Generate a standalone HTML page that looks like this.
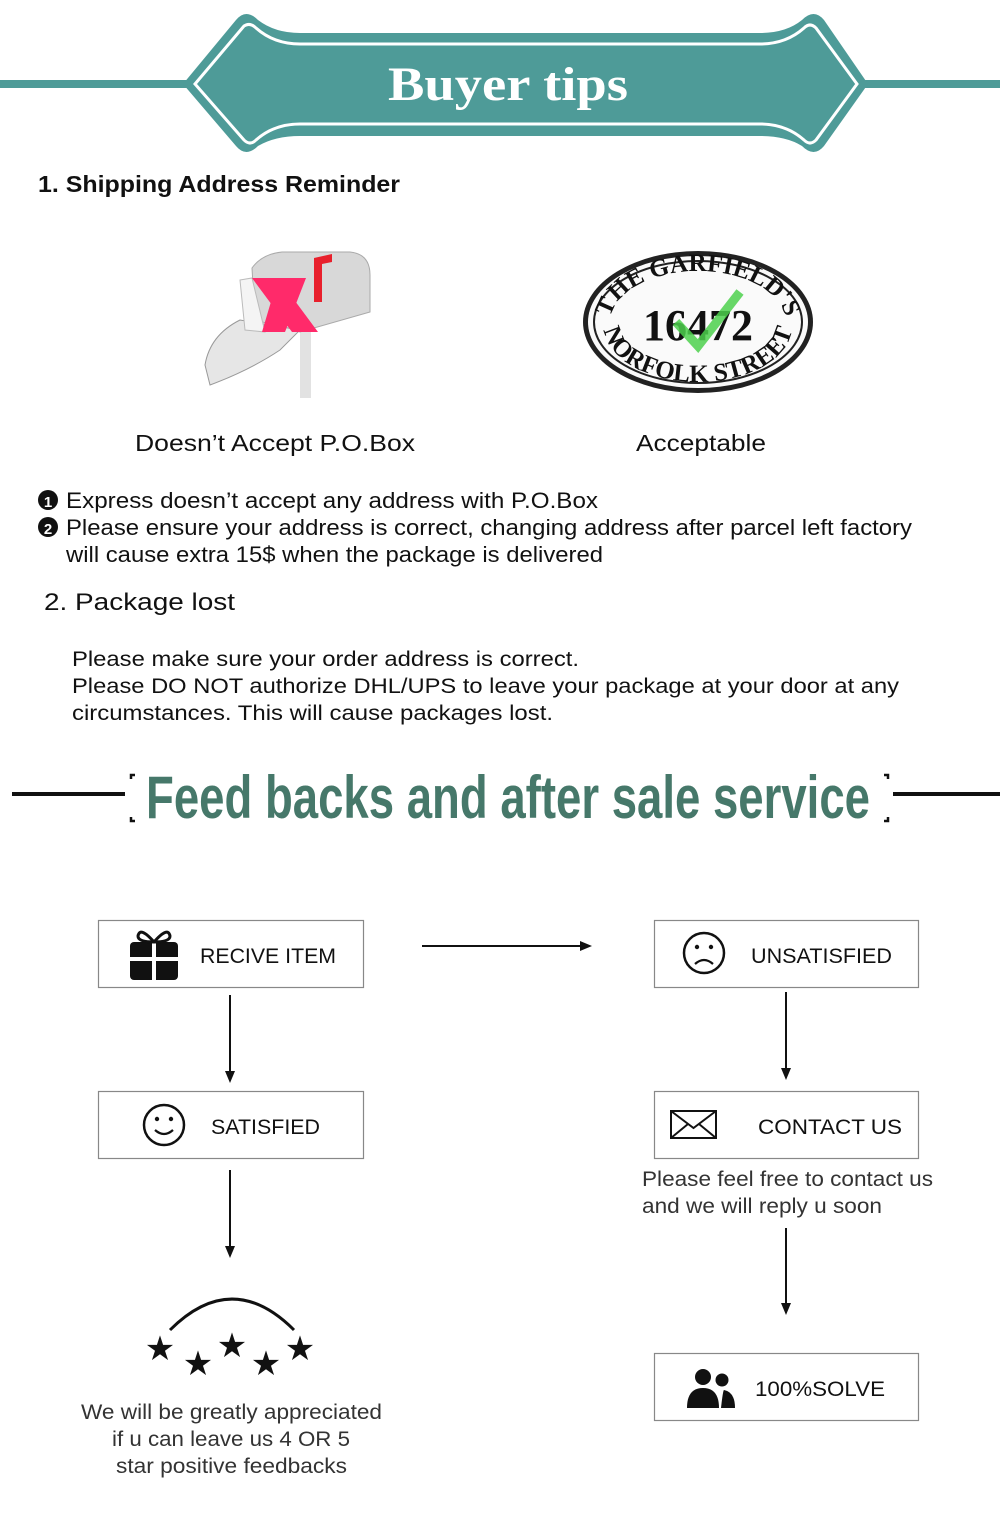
<!DOCTYPE html>
<html><head><meta charset="utf-8"><style>
html,body{margin:0;padding:0;background:#fff;}
svg{display:block;}
text{font-family:"Liberation Sans",Arial,sans-serif;fill:#111;}
</style></head><body>
<svg width="1000" height="1515" viewBox="0 0 1000 1515" xmlns="http://www.w3.org/2000/svg">
<!-- Banner -->
<rect x="0" y="80" width="200" height="8" fill="#4e9b98"/>
<rect x="850" y="80" width="150" height="8" fill="#4e9b98"/>
<path d="M183,84 L236,20 Q246,8 258,20 Q275,33 300,33 L760,33 Q786,33 802,20 Q814,8 824,20 L868,84 L824,146 Q814,158 802,146 Q786,136 760,136 L300,136 Q275,136 258,146 Q246,158 236,146 Z" fill="#4e9b98"/>
<path d="M195,84 L244,26 Q250,22 256,28 Q274,44 300,44 L760,44 Q786,44 804,28 Q810,22 816,28 L857,84 L816,140 Q810,146 804,140 Q786,124 760,124 L300,124 Q274,124 256,140 Q250,146 244,140 Z" fill="none" stroke="#fff" stroke-width="3"/>
<text x="388" y="100" textLength="240" lengthAdjust="spacingAndGlyphs" style="font-family:'Liberation Serif',serif;font-weight:bold;font-size:48px;fill:#fff">Buyer tips</text>

<text x="38" y="192" textLength="362" lengthAdjust="spacingAndGlyphs" style="font-weight:bold;font-size:23px">1. Shipping Address Reminder</text>

<!-- Mailbox -->
<rect x="300" y="310" width="11" height="88" fill="#e2e2e2"/>
<path d="M252,268 Q262,254 282,252 L350,252 Q370,254 370,275 L370,312 L300,332 L255,320 Z" fill="#d8d8d8" stroke="#aaa"/>
<path d="M205,365 Q210,335 240,320 L300,330 L280,350 Q250,370 210,385 Z" fill="#e6e6e6" stroke="#999"/>
<polygon points="240,280 252,278 265,332 245,330" fill="#f4f4f4" stroke="#bbb"/>
<polygon points="252,278 278,278 318,332 292,332" fill="#ff2a6a"/>
<polygon points="278,278 306,278 285,332 262,332" fill="#ff2a6a"/>
<polygon points="314,258 332,254 332,262 322,264 322,302 314,302" fill="#e8202c"/>

<!-- Sign -->
<ellipse cx="698" cy="322" rx="115" ry="71" fill="#222"/>
<ellipse cx="698" cy="322" rx="110" ry="66" fill="#fafafa"/>
<ellipse cx="698" cy="322" rx="104" ry="61" fill="none" stroke="#222" stroke-width="2"/>
<defs>
<path id="top" d="M612,312 A88,52 0 0 1 784,312"/>
<path id="bot" d="M604,326 A94,56 0 0 0 792,326"/>
</defs>
<text style="font-family:'Liberation Serif',serif;font-weight:bold;font-size:25px;fill:#111"><textPath href="#top" startOffset="50%" text-anchor="middle">THE GARFIELD'S</textPath></text>
<text style="font-family:'Liberation Serif',serif;font-weight:bold;font-size:25px;fill:#111"><textPath href="#bot" startOffset="50%" text-anchor="middle">NORFOLK STREET</textPath></text>
<text x="698" y="340" text-anchor="middle" style="font-family:'Liberation Serif',serif;font-weight:bold;font-size:44px;fill:#111">16472</text>
<polyline points="676,322 698,346 740,292" fill="none" stroke="#4cd04c" stroke-width="9" opacity="0.85"/>

<text x="135" y="451" textLength="280" lengthAdjust="spacingAndGlyphs" style="font-size:23px">Doesn’t Accept P.O.Box</text>
<text x="636" y="451" textLength="130" lengthAdjust="spacingAndGlyphs" style="font-size:23px">Acceptable</text>

<circle cx="48" cy="500" r="10" fill="#111"/><text x="48" y="507" text-anchor="middle" style="font-size:15px;font-weight:bold;fill:#fff">1</text>
<circle cx="48" cy="527" r="10" fill="#111"/><text x="48" y="534" text-anchor="middle" style="font-size:15px;font-weight:bold;fill:#fff">2</text>
<text x="66" y="508" textLength="532" lengthAdjust="spacingAndGlyphs" style="font-size:22px">Express doesn’t accept any address with P.O.Box</text>
<text x="66" y="535" textLength="846" lengthAdjust="spacingAndGlyphs" style="font-size:22px">Please ensure your address is correct, changing address after parcel left factory</text>
<text x="66" y="562" textLength="537" lengthAdjust="spacingAndGlyphs" style="font-size:22px">will cause extra 15$ when the package is delivered</text>

<text x="44" y="610" textLength="191" lengthAdjust="spacingAndGlyphs" style="font-size:24px">2. Package lost</text>
<text x="72" y="666" textLength="507" lengthAdjust="spacingAndGlyphs" style="font-size:21.5px">Please make sure your order address is correct.</text>
<text x="72" y="693" textLength="827" lengthAdjust="spacingAndGlyphs" style="font-size:21.5px">Please DO NOT authorize DHL/UPS to leave your package at your door at any</text>
<text x="72" y="720" textLength="481" lengthAdjust="spacingAndGlyphs" style="font-size:21.5px">circumstances. This will cause packages lost.</text>

<!-- Feedback heading -->
<rect x="12" y="792" width="113" height="4" fill="#111"/>
<rect x="893" y="792" width="107" height="4" fill="#111"/>
<path d="M131,779 V775 H135 M131,817 V821 H135 M884,775 H888 V779 M884,821 H888 V817" fill="none" stroke="#111" stroke-width="2.5"/>
<text x="508" y="818" text-anchor="middle" textLength="724" lengthAdjust="spacingAndGlyphs" style="font-weight:bold;font-size:60px;fill:#46786a">Feed backs and after sale service</text>

<!-- Boxes -->
<g fill="#fff" stroke="#888" stroke-width="1.2">
<rect x="98.5" y="920.5" width="265" height="67"/>
<rect x="654.5" y="920.5" width="264" height="67"/>
<rect x="98.5" y="1091.5" width="265" height="67"/>
<rect x="654.5" y="1091.5" width="264" height="67"/>
<rect x="654.5" y="1353.5" width="264" height="67"/>
</g>
<text x="200" y="963" textLength="136" lengthAdjust="spacingAndGlyphs" style="font-size:21px">RECIVE ITEM</text>
<text x="751" y="963" textLength="141" lengthAdjust="spacingAndGlyphs" style="font-size:21px">UNSATISFIED</text>
<text x="211" y="1134" textLength="109" lengthAdjust="spacingAndGlyphs" style="font-size:21px">SATISFIED</text>
<text x="758" y="1134" textLength="144" lengthAdjust="spacingAndGlyphs" style="font-size:21px">CONTACT US</text>
<text x="755" y="1396" textLength="130" lengthAdjust="spacingAndGlyphs" style="font-size:21px">100%SOLVE</text>

<!-- gift -->
<rect x="130" y="942" width="48" height="38" rx="4" fill="#111"/>
<rect x="152" y="942" width="4" height="38" fill="#fff"/>
<rect x="130" y="957" width="48" height="4" fill="#fff"/>
<path d="M154,942 Q140,926 138,936 Q138,942 154,942 Q168,926 170,936 Q170,942 154,942" fill="none" stroke="#111" stroke-width="3"/>
<!-- frown -->
<circle cx="704" cy="953" r="20" fill="none" stroke="#111" stroke-width="2.5"/>
<circle cx="697" cy="947" r="2.2" fill="#111"/><circle cx="711" cy="947" r="2.2" fill="#111"/>
<path d="M695,964 Q704,956 713,964" fill="none" stroke="#111" stroke-width="2.2"/>
<!-- smile -->
<circle cx="164" cy="1125" r="20" fill="none" stroke="#111" stroke-width="2.5"/>
<circle cx="157" cy="1119" r="2.2" fill="#111"/><circle cx="171" cy="1119" r="2.2" fill="#111"/>
<path d="M155,1130 Q164,1138 173,1130" fill="none" stroke="#111" stroke-width="2.2"/>
<!-- envelope -->
<rect x="671" y="1111" width="45" height="27" fill="none" stroke="#111" stroke-width="2"/>
<path d="M671,1111 L693.5,1128 L716,1111 M671,1138 L688,1124 M716,1138 L699,1124" fill="none" stroke="#111" stroke-width="2"/>
<!-- people -->
<circle cx="703" cy="1377" r="8" fill="#111"/>
<path d="M687,1408 Q687,1388 703,1388 Q719,1388 719,1408 Z" fill="#111"/>
<circle cx="722" cy="1380" r="6.5" fill="#111"/>
<path d="M721,1408 Q723,1390 724,1390 Q735,1392 735,1408 Z" fill="#111"/>

<!-- arrows -->
<g stroke="#111" stroke-width="2" fill="none">
<line x1="422" y1="946" x2="584" y2="946"/>
<line x1="230" y1="995" x2="230" y2="1076"/>
<line x1="786" y1="992" x2="786" y2="1073"/>
<line x1="230" y1="1170" x2="230" y2="1250"/>
<line x1="786" y1="1228" x2="786" y2="1307"/>
</g>
<g fill="#111">
<polygon points="592,946 580,941 580,951"/>
<polygon points="230,1083 225,1071 235,1071"/>
<polygon points="786,1080 781,1068 791,1068"/>
<polygon points="230,1258 225,1246 235,1246"/>
<polygon points="786,1315 781,1303 791,1303"/>
</g>

<text x="642" y="1186" textLength="291" lengthAdjust="spacingAndGlyphs" style="font-size:21px;fill:#333">Please feel free to contact us</text>
<text x="642" y="1213" textLength="240" lengthAdjust="spacingAndGlyphs" style="font-size:21px;fill:#333">and we will reply u soon</text>

<!-- stars -->
<path d="M170,1330 Q232,1268 294,1330" fill="none" stroke="#111" stroke-width="3"/>
<g style="font-size:34px" text-anchor="middle">
<text x="160" y="1360">★</text><text x="198" y="1375">★</text><text x="232" y="1357">★</text><text x="266" y="1375">★</text><text x="300" y="1360">★</text>
</g>
<text x="81" y="1419" textLength="301" lengthAdjust="spacingAndGlyphs" style="font-size:21px;fill:#333">We will be greatly appreciated</text>
<text x="112" y="1446" textLength="238" lengthAdjust="spacingAndGlyphs" style="font-size:21px;fill:#333">if u can leave us 4 OR 5</text>
<text x="116" y="1473" textLength="231" lengthAdjust="spacingAndGlyphs" style="font-size:21px;fill:#333">star positive feedbacks</text>
</svg>
</body></html>
